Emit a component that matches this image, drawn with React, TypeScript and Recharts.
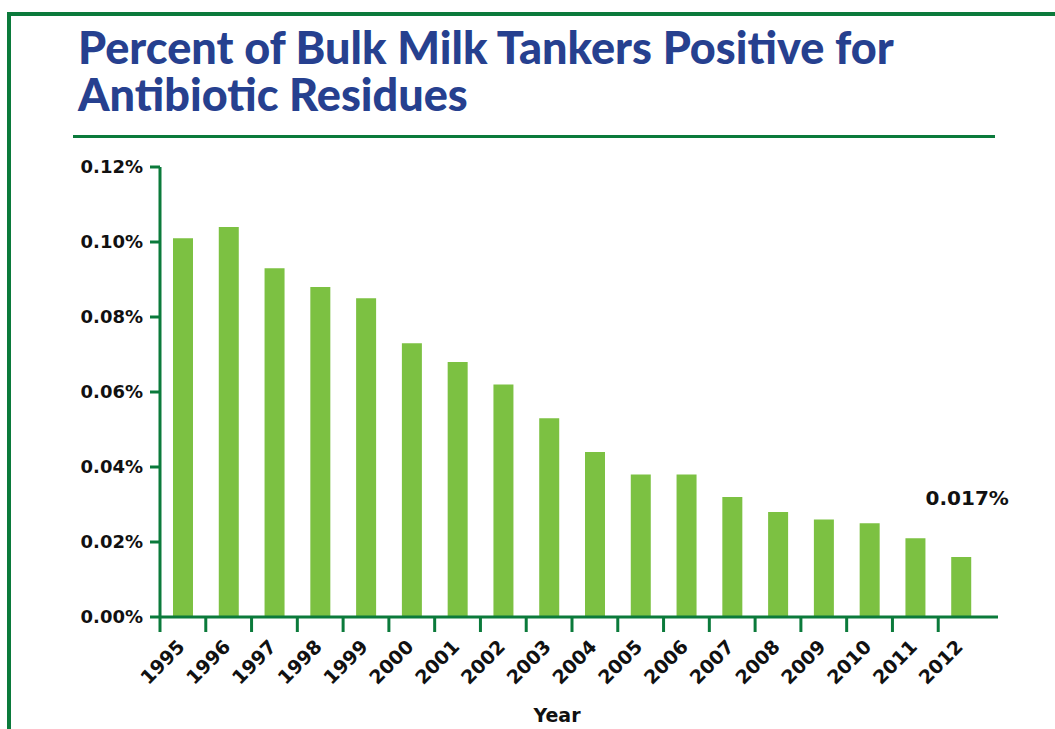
import React from 'react';
import { BarChart, Bar, XAxis, YAxis, LabelList } from 'recharts';

const years = ['1995','1996','1997','1998','1999','2000','2001','2002','2003','2004','2005','2006','2007','2008','2009','2010','2011','2012'];
const percentPositive = [0.101,0.104,0.093,0.088,0.085,0.073,0.068,0.062,0.053,0.044,0.038,0.038,0.032,0.028,0.026,0.025,0.021,0.016];
const yTicks = [0, 0.02, 0.04, 0.06, 0.08, 0.10, 0.12];
const titleLines = ['Percent of Bulk Milk Tankers Positive for', 'Antibiotic Residues'];
const xAxisTitle = 'Year';
const lastLabel = '0.017%';

const data = years.map((y, i) => ({ year: y, value: percentPositive[i] }));

const W = 1055;
const H = 729;
const PLOT_LEFT = 160;
const PLOT_RIGHT = 998;
const PLOT_TOP = 167;
const PLOT_BOTTOM = 617;
const Y_AXIS_W = 80;
const X_AXIS_H = 90;
const PAD_RIGHT = 14;
const BAND = (PLOT_RIGHT - PLOT_LEFT - PAD_RIGHT) / years.length;

const GREEN = '#0b7a3b';
const BAR = '#7cc142';
const BLUE = '#26408f';
const TITLE_FONT = 'Lato, "DejaVu Sans", sans-serif';
const FONT = '"DejaVu Sans", Lato, sans-serif';

const XTick = (props: any) => {
  const { x, y, payload } = props;
  const lx = x - BAND / 2;
  const tx = x + 3;
  const ty = y + 31;
  return (
    <g>
      <line x1={lx} x2={lx} y1={y} y2={y + 15} stroke={GREEN} strokeWidth={3} />
      <text
        x={tx}
        y={ty}
        transform={`rotate(-45, ${tx}, ${ty})`}
        textAnchor="end"
        fontFamily={FONT}
        fontWeight={700}
        fontSize={19}
        fill="#111"
      >
        {payload.value}
      </text>
    </g>
  );
};

const LastLabel = (props: any) => {
  const { x, y, width, index } = props;
  if (index !== years.length - 1) return null;
  return (
    <text
      x={x + width / 2 + 6}
      y={y - 52}
      textAnchor="middle"
      fontFamily={FONT}
      fontWeight={700}
      fontSize={20}
      fill="#111"
    >
      {lastLabel}
    </text>
  );
};

export default function App() {
  return (
    <div style={{ position: 'absolute', left: 0, top: 0, width: W, height: H, background: '#fff', overflow: 'hidden' }}>
      <svg width={W} height={H} style={{ position: 'absolute', left: 0, top: 0 }}>
        <line x1={7} x2={W} y1={14} y2={14} stroke={GREEN} strokeWidth={4} />
        <line x1={9} x2={9} y1={12} y2={H} stroke={GREEN} strokeWidth={4} />
        <line x1={73} x2={995} y1={136.5} y2={136.5} stroke={GREEN} strokeWidth={3} />
        <text x={557} y={722} textAnchor="middle" fill="#111" fontFamily={FONT} fontWeight={700} fontSize={19}>{xAxisTitle}</text>
      </svg>
      <div
        style={{
          position: 'absolute',
          left: 78,
          top: 24,
          fontFamily: TITLE_FONT,
          fontWeight: 900,
          fontSize: 45,
          lineHeight: '47px',
          color: BLUE,
          whiteSpace: 'nowrap',
        }}
      >
        {titleLines[0]}
        <br />
        {titleLines[1]}
      </div>
      <div style={{ position: 'absolute', left: 0, top: 0 }}>
        <BarChart
          width={W}
          height={H}
          data={data}
          margin={{ top: PLOT_TOP, right: W - PLOT_RIGHT, left: PLOT_LEFT - Y_AXIS_W, bottom: H - PLOT_BOTTOM - X_AXIS_H }}
        >
          <XAxis
            dataKey="year"
            height={X_AXIS_H}
            interval={0}
            padding={{ left: 0, right: PAD_RIGHT }}
            axisLine={{ stroke: GREEN, strokeWidth: 3 }}
            tickLine={false}
            tickSize={0}
            tickMargin={0}
            tick={<XTick />}
          />
          <YAxis
            width={Y_AXIS_W}
            domain={[0, 0.12]}
            ticks={yTicks}
            interval={0}
            tickFormatter={(v: number) => v.toFixed(2) + '%'}
            axisLine={{ stroke: GREEN, strokeWidth: 3 }}
            tickLine={{ stroke: GREEN, strokeWidth: 3 }}
            tickSize={10}
            tickMargin={7}
            tick={{ fill: '#111', fontSize: 18, fontWeight: 700, fontFamily: FONT }}
          />
          <Bar dataKey="value" fill={BAR} barSize={20} isAnimationActive={false}>
            <LabelList dataKey="value" content={<LastLabel />} />
          </Bar>
        </BarChart>
      </div>
    </div>
  );
}
